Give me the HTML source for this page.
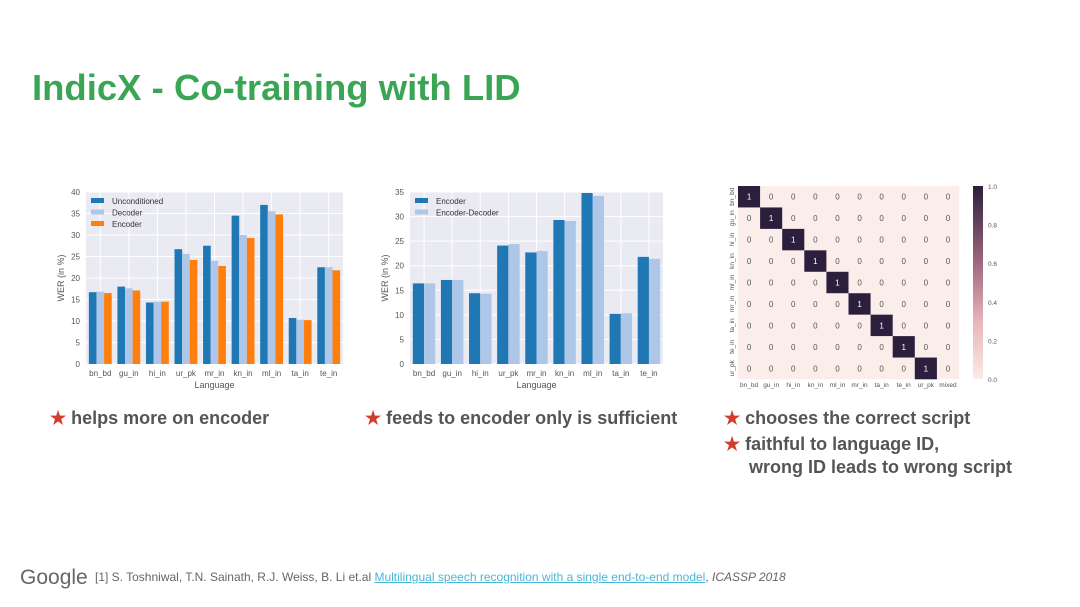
<!DOCTYPE html>
<html><head><meta charset="utf-8">
<style>
body{margin:0;width:1080px;height:607px;background:#fff;overflow:hidden;font-family:"Liberation Sans",sans-serif;position:relative}
.t{position:absolute;white-space:nowrap}
</style></head><body>
<div class="t" style="left:32px;top:67px;font-size:36.5px;font-weight:bold;color:#3aa655">IndicX - Co-training with LID</div>
<svg id="svg" width="1080" height="607" style="position:absolute;left:0;top:0"></svg>
<div class="t" style="left:50px;top:408px;font-size:18px;font-weight:bold;color:#555"><span style="color:#d33b2c">★</span> helps more on encoder</div>
<div class="t" style="left:365px;top:408px;font-size:18px;font-weight:bold;color:#555"><span style="color:#d33b2c">★</span> feeds to encoder only is sufficient</div>
<div class="t" style="left:724px;top:408px;font-size:18px;font-weight:bold;color:#555"><span style="color:#d33b2c">★</span> chooses the correct script</div>
<div class="t" style="left:724px;top:433px;font-size:18px;font-weight:bold;color:#555;line-height:23px"><span style="color:#d33b2c">★</span> faithful to language ID,<br>&nbsp;&nbsp;&nbsp;&nbsp;&nbsp;wrong ID leads to wrong script</div>
<div class="t" style="left:20px;top:566px;font-size:21px;color:#666">Google</div>
<div class="t" style="left:95px;top:570px;font-size:12px;color:#666">[1] S. Toshniwal, T.N. Sainath, R.J. Weiss, B. Li et.al <span style="color:#4ab6d8;text-decoration:underline">Multilingual speech recognition with a single end-to-end model</span>, <i>ICASSP 2018</i></div>
<script>
const cats=["bn_bd","gu_in","hi_in","ur_pk","mr_in","kn_in","ml_in","ta_in","te_in"];
const unconditioned=[16.7,18,14.3,26.7,27.5,34.5,37,10.7,22.5];
const decoder=[16.8,17.6,14.5,25.6,24,30,35.5,10.3,22.5];
const encoder=[16.5,17.1,14.5,24.2,22.8,29.3,34.8,10.2,21.8];
const enc2=[16.4,17.1,14.4,24.1,22.7,29.3,34.8,10.2,21.8];
const encdec2=[16.4,17.1,14.3,24.4,23,29.1,34.2,10.3,21.4];
const ticks1=[0,5,10,15,20,25,30,35,40];
const ticks2=[0,5,10,15,20,25,30,35];
const hmRows=["bn_bd","gu_in","hi_in","kn_in","ml_in","mr_in","ta_in","te_in","ur_pk"];
const hmCols=["bn_bd","gu_in","hi_in","kn_in","ml_in","mr_in","ta_in","te_in","ur_pk","mixed"];
const cbTicks=["0.0","0.2","0.4","0.6","0.8","1.0"];
const NS="http://www.w3.org/2000/svg",svg=document.getElementById('svg');
function el(t,a,txt){const e=document.createElementNS(NS,t);for(const k in a)e.setAttribute(k,a[k]);if(txt!=null)e.textContent=txt;svg.appendChild(e);return e;}
function bar(x0,x1,y0,y1,max,ticks,series,colors,names,legend,id){
  const r=el('rect',{x:x0,y:y0,width:x1-x0,height:y1-y0,fill:'#eaeaf2'});
  
  const ys=v=>y1-(v/max)*(y1-y0);
  ticks.forEach(t=>{el('line',{x1:x0,x2:x1,y1:ys(t),y2:ys(t),stroke:'#fff','stroke-width':1});
    const tx=el('text',{x:x0-6,y:ys(t)+3,'font-size':8,fill:'#555','text-anchor':'end'},t);
    });
  const gw=(x1-x0)/cats.length,bw=gw*0.8/series.length;
  cats.forEach((c,i)=>{const cx=x0+gw*(i+0.5);
    el('line',{x1:cx,x2:cx,y1:y0,y2:y1,stroke:'#fff','stroke-width':1});
    const tx=el('text',{x:cx,y:y1+12,'font-size':8,fill:'#555','text-anchor':'middle'},c);
    
    series.forEach((s,j)=>{const bx=cx-gw*0.4+bw*j;
      const b=el('rect',{x:bx,y:ys(s[i]),width:bw,height:y1-ys(s[i]),fill:colors[j]});
      });});
  const xl=el('text',{x:(x0+x1)/2,y:y1+24,'font-size':9,fill:'#555','text-anchor':'middle'},'Language');
  
  const yl=el('text',{x:0,y:0,'font-size':9,fill:'#555','text-anchor':'middle',transform:`translate(${x0-22},${(y0+y1)/2}) rotate(-90)`},'WER (in %)');
  
  names.forEach((n,j)=>{const ly=y0+6+j*11.5;
    el('rect',{x:x0+5,y:ly,width:13,height:5,fill:colors[j]});
    const lt=el('text',{x:x0+26,y:ly+6,'font-size':8,fill:'#333'},n);
    });
}
bar(86,343,192,364,40,ticks1,[unconditioned,decoder,encoder],['#1f77b4','#aec7e8','#ff7f0e'],['Unconditioned','Decoder','Encoder'],true,'chart1');
bar(410,663,192,364,35,ticks2,[enc2,encdec2],['#1f77b4','#aec7e8'],['Encoder','Encoder-Decoder'],true,'chart2');
const hx0=738,hx1=959,hy0=186,hy1=379,cw=(hx1-hx0)/hmCols.length,ch=(hy1-hy0)/hmRows.length;
hmRows.forEach((r,i)=>{
  const rt=el('text',{x:0,y:0,'font-size':6.5,fill:'#555','text-anchor':'middle',transform:`translate(${hx0-4},${hy0+ch*(i+0.5)}) rotate(-90)`},r);
  
  hmCols.forEach((c,j)=>{const v=(hmRows[i]===c)?1:0;
    const cell=el('rect',{x:hx0+cw*j,y:hy0+ch*i,width:cw+0.3,height:ch+0.3,fill:v?'#2c1e3d':'#fbeeea'});
    
    el('text',{x:hx0+cw*(j+0.5),y:hy0+ch*(i+0.5)+3,'font-size':8,fill:v?'#fff':'#555','text-anchor':'middle'},v);});});
hmCols.forEach((c,j)=>{const t=el('text',{x:hx0+cw*(j+0.5),y:hy1+8,'font-size':6.5,fill:'#555','text-anchor':'middle'},c);
  });
const defs=el('defs',{});const g=document.createElementNS(NS,'linearGradient');
g.setAttribute('id','cb');g.setAttribute('x1','0');g.setAttribute('y1','1');g.setAttribute('x2','0');g.setAttribute('y2','0');
[['0','#faebe5'],['0.3','#e8b4b8'],['0.6','#a0687f'],['1','#2c1e3d']].forEach(s=>{const st=document.createElementNS(NS,'stop');st.setAttribute('offset',s[0]);st.setAttribute('stop-color',s[1]);g.appendChild(st);});
defs.appendChild(g);
const cb=el('rect',{x:973,y:hy0,width:10,height:hy1-hy0,fill:'url(#cb)'});

cbTicks.forEach((t,i)=>{const y=hy1-(parseFloat(t))*(hy1-hy0);
  const tt=el('text',{x:988,y:y+3,'font-size':6.5,fill:'#555'},t);
  });
</script>
</body></html>
